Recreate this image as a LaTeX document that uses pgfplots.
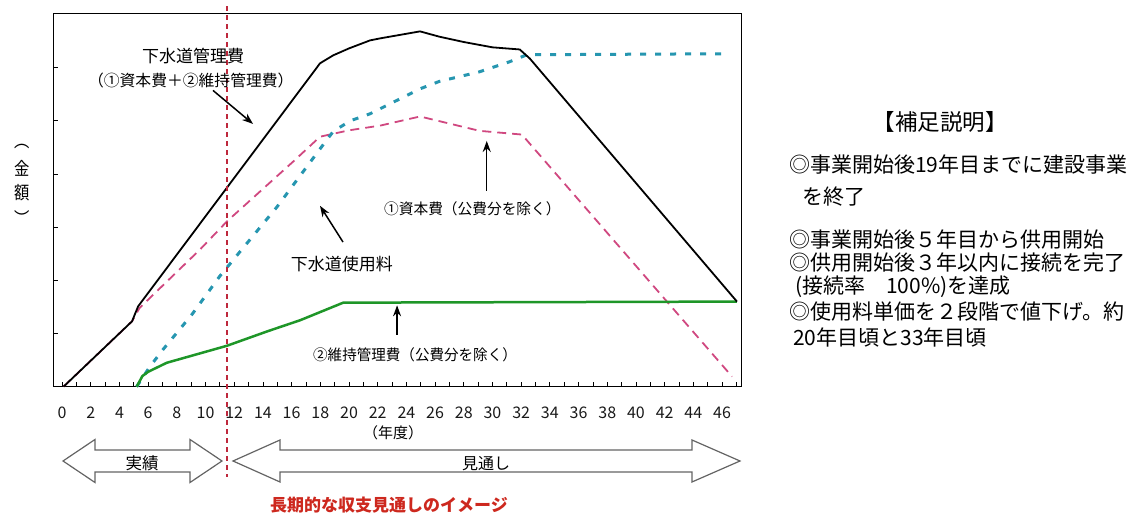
\documentclass[border=0pt]{standalone}
\usepackage{fontspec}
\setmainfont{Noto Sans CJK JP}
\usepackage{pgfplots}
\usepackage{pgfplotstable}
\pgfplotsset{compat=1.18}
\usetikzlibrary{arrows.meta}
\definecolor{cpink}{RGB}{208,72,128}
\definecolor{ccyan}{RGB}{38,150,176}
\definecolor{cgreen}{RGB}{30,150,40}
\definecolor{cvred}{RGB}{190,40,60}
\definecolor{ctitle}{RGB}{205,40,30}
\definecolor{carrow}{RGB}{100,100,100}

\pgfplotstableread{
x y
0.1 0
4.88 1.23
5.30 1.51
17.98 6.08
18.9 6.23
20.0 6.36
21.46 6.51
22.2 6.55
24.95 6.68
26.3 6.58
28.0 6.48
30.0 6.38
31.9 6.34
32.6 6.17
47.04 1.60
}\totaldata

\pgfplotstableread{
x y
0.1 0
4.88 1.23
5.4 1.48
9.62 2.58
11.5 3.11
16.1 4.23
17.98 4.70
20.0 4.82
22.2 4.91
24.95 5.08
29.1 4.81
32.05 4.74
46.7 0.19
}\capitaldata

\pgfplotstableread{
x y
5.2 0
6.13 0.38
7.04 0.70
9.06 1.36
11.0 2.08
14.98 3.38
17.98 4.47
18.9 4.80
20.1 5.00
21.46 5.13
24.95 5.60
26.3 5.74
29.1 5.92
31.2 6.11
32.4 6.24
46.4 6.26
}\feedata

\pgfplotstableread{
x y
5.2 0
5.6 0.20
6.0 0.28
7.3 0.45
11.5 0.77
14.3 1.04
16.6 1.25
19.6 1.58
47.04 1.60
}\maintdata

\begin{document}
\begin{tikzpicture}
\useasboundingbox (0,0) rectangle (1134bp,514bp);
\begin{axis}[
  at={(53.3bp,127.3bp)}, anchor=south west,
  scale only axis, width=688.4bp, height=373.4bp,
  xmin=-0.61, xmax=47.37, ymin=0, ymax=7.02,
  clip=false,
  axis line style={black, line width=1.1bp},
  xtick={0,2,...,46}, minor xtick={1,3,...,47},
  ytick={1,2,3,4,5,6}, yticklabels={},
  tick align=inside, major tick length=5bp, minor tick length=5bp,
  tick style={black, line width=0.8bp},
  xtick pos=bottom, ytick pos=left,
  /pgf/number format/assume math mode=true,
  xticklabel style={font=\fontsize{16bp}{16bp}\selectfont, text=black!90, yshift=-17bp},
]
\addplot[cpink, line width=1.8bp, dash pattern=on 9bp off 6bp] table {\capitaldata};
\addplot[ccyan, line width=3bp, dash pattern=on 6bp off 9bp] table {\feedata};
\addplot[cgreen, line width=2.5bp] table {\maintdata};
\addplot[black, line width=1.8bp] table {\totaldata};

\draw[cvred, line width=1.2bp, dash pattern=on 5bp off 4bp] (axis cs:11.5,7.15) -- (axis cs:11.5,-1.70);

\node[font=\fontsize{17bp}{17bp}\selectfont] at (axis cs:9.13,6.21) {下水道管理費};
\node[font=\fontsize{15.8bp}{16bp}\selectfont] at (axis cs:8.97,5.75) {（①資本費＋②維持管理費）};
\draw[black, line width=1.5bp, -{Stealth[length=11bp,width=8bp]}] (axis cs:10.52,5.57) -- (axis cs:13.31,4.94);

\node[font=\fontsize{17bp}{17bp}\selectfont] at (axis cs:19.5,2.30) {下水道使用料};
\draw[black, line width=1.5bp, -{Stealth[length=11bp,width=8bp]}] (axis cs:19.58,2.72) -- (axis cs:17.98,3.40);

\node[font=\fontsize{15bp}{15bp}\selectfont, xscale=0.98] at (axis cs:28.6,3.34) {①資本費（公費分を除く）};
\draw[black, line width=1.5bp, -{Stealth[length=11bp,width=8bp]}] (axis cs:29.6,3.68) -- (axis cs:29.6,4.62);

\node[font=\fontsize{15bp}{15bp}\selectfont, xscale=0.97] at (axis cs:24.6,0.60) {②維持管理費（公費分を除く）};
\draw[black, line width=1.5bp, -{Stealth[length=11bp,width=8bp]}] (axis cs:23.35,0.98) -- (axis cs:23.35,1.53);

\node[font=\fontsize{15bp}{15bp}\selectfont] at (axis cs:23.07,-0.86) {（年度）};
\end{axis}

\begin{scope}[x=1bp, y=-1bp, shift={(0bp,514bp)}]
% y-axis label (vertical)
\begin{scope}[every node/.style={font=\fontsize{18bp}{18bp}\selectfont, inner sep=0, xscale=0.85}]
\node at (22,147) {︵};
\node at (22,168) {金};
\node at (22,193) {額};
\node at (22,218) {︶};
\end{scope}

% double arrows
\draw[carrow, line width=1.2bp, fill=white] (63,461) -- (95,439.5) -- (95,450) -- (190,450) -- (190,439.5) -- (222,461) -- (190,482.5) -- (190,472) -- (95,472) -- (95,482.5) -- cycle;
\node[font=\fontsize{16.5bp}{17bp}\selectfont] at (142,463) {実績};
\draw[carrow, line width=1.2bp, fill=white] (233,461) -- (280,440) -- (280,450) -- (692,450) -- (692,440) -- (740,461) -- (692,482) -- (692,472) -- (280,472) -- (280,482) -- cycle;
\node[font=\fontsize{16bp}{17bp}\selectfont] at (486,464) {見通し};

% title
\node[font=\fontsize{17bp}{17bp}\selectfont\bfseries, text=ctitle] at (389,505) {長期的な収支見通しのイメージ};

% supplementary notes
\node[font=\fontsize{22.5bp}{23bp}\selectfont] at (940,122) {【補足説明】};
\begin{scope}[every node/.style={anchor=west, inner sep=0, font=\fontsize{21bp}{21bp}\selectfont}]
\node at (789,165) {◎事業開始後19年目までに建設事業};
\node at (802,197) {を終了};
\node at (789,240) {◎事業開始後５年目から供用開始};
\node at (789,263) {◎供用開始後３年以内に接続を完了};
\node at (795,287) {(接続率　100\%)を達成};
\node at (789,312) {◎使用料単価を２段階で値下げ。約};
\node at (793,337) {20年目頃と33年目頃};
\end{scope}
\end{scope}
\end{tikzpicture}
\end{document}
